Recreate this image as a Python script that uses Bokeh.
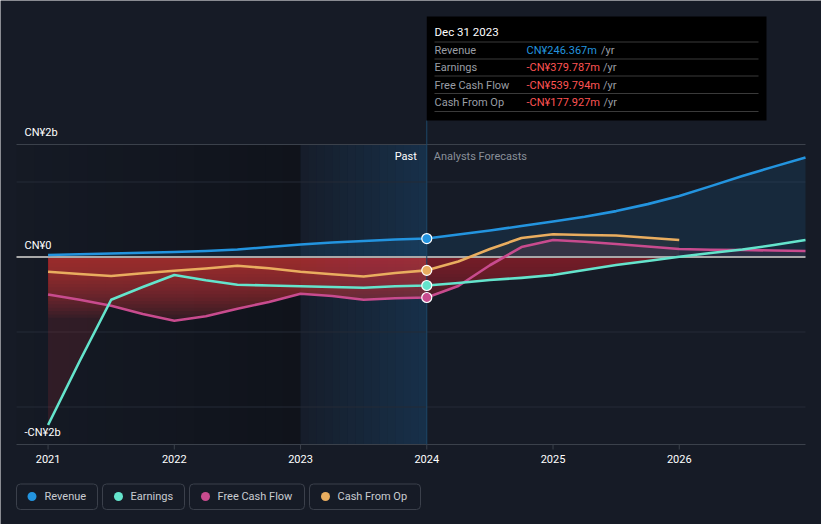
import numpy as np
from bokeh.plotting import figure
from bokeh.core.properties import value
from bokeh.embed import file_html
from bokeh.resources import INLINE

# ---------------- data (CN¥ billions) ----------------
past_years = [2021.0, 2021.25, 2021.5, 2021.75, 2022.0, 2022.25, 2022.5, 2022.75,
              2023.0, 2023.25, 2023.5, 2023.75, 2024.0]
revenue_past = [0.027, 0.037, 0.047, 0.056, 0.067, 0.080, 0.100, 0.133,
                0.167, 0.193, 0.213, 0.233, 0.246]
earnings_past = [-2.24, -1.39, -0.57, -0.40, -0.24, -0.31, -0.37, -0.38,
                 -0.39, -0.40, -0.41, -0.39, -0.380]
fcf_past = [-0.50, -0.57, -0.65, -0.76, -0.85, -0.79, -0.69, -0.60,
            -0.49, -0.52, -0.57, -0.55, -0.540]
cfo_past = [-0.196, -0.227, -0.253, -0.217, -0.183, -0.153, -0.117, -0.150,
            -0.196, -0.230, -0.260, -0.213, -0.178]

forecast_years = [2024.0, 2024.25, 2024.5, 2024.75, 2025.0, 2025.25, 2025.5, 2025.75,
                  2026.0, 2026.25, 2026.5, 2026.75, 2027.0]
revenue_fc = [0.246, 0.300, 0.353, 0.413, 0.473, 0.537, 0.612, 0.705,
              0.813, 0.945, 1.080, 1.205, 1.327]
earnings_fc = [-0.380, -0.347, -0.307, -0.278, -0.240, -0.173, -0.107, -0.053,
               0.003, 0.053, 0.099, 0.160, 0.227]
fcf_fc = [-0.540, -0.387, -0.110, 0.133, 0.227, 0.204, 0.173, 0.140,
          0.107, 0.097, 0.093, 0.087, 0.080]
cfo_fc_years = [2024.0, 2024.25, 2024.5, 2024.75, 2025.0, 2025.25, 2025.5, 2025.75, 2026.0]
cfo_fc = [-0.178, -0.060, 0.107, 0.253, 0.303, 0.293, 0.287, 0.256, 0.227]

tick_years = [2021, 2022, 2023, 2024, 2025, 2026]
tick_labels = ["2021", "2022", "2023", "2024", "2025", "2026"]
y_label_values = [1.5, 0.0, -2.5]
y_labels = ["CN¥2b", "CN¥0", "-CN¥2b"]
grid_values = [1.0, -1.0, -2.0]
y_top, y_bottom = 1.5, -2.5
x_start, x_end = 2020.75, 2027.0
band_start = 2023.0
today = 2024.0

series_names = ["Revenue", "Earnings", "Free Cash Flow", "Cash From Op"]
series_colors = ["#2394df", "#64e4cc", "#c84b8e", "#e9ad5f"]
tooltip_title = "Dec 31 2023"
tooltip_values = ["CN¥246.367m", "-CN¥379.787m", "-CN¥539.794m", "-CN¥177.927m"]
tooltip_value_colors = ["#2394df", "#ff5454", "#ff5454", "#ff5454"]

# ---------------- layout (page pixels) ----------------
W, H = 821, 524
PL, PR, PT, PB = 16, 805, 144, 444          # plot area in page px
ppx = (PR - PL) / (x_end - x_start)
ppy = (PB - PT) / (y_top - y_bottom)


def px(x):
    return x_start + (x - PL) / ppx


def py(y):
    return y_top - (y - PT) / ppy


BG = "#161b26"
FONT = value("Roboto")

p = figure(width=W, height=H, output_backend="svg", toolbar_location=None,
           x_range=(px(0), px(W)), y_range=(py(H), py(0)),
           min_border=0, min_border_left=0, min_border_right=0,
           min_border_top=0, min_border_bottom=0,
           background_fill_color=BG, border_fill_color=BG, outline_line_color=None)
p.xaxis.visible = False
p.yaxis.visible = False
p.xgrid.visible = False
p.ygrid.visible = False

# ---------------- background bands ----------------
n_strips = 16
edges = [x_start + (band_start - x_start) * i / n_strips for i in range(n_strips + 1)]
for i in range(n_strips):
    p.quad(left=edges[i], right=edges[i + 1], top=y_top, bottom=y_bottom,
           fill_color="#000000", fill_alpha=0.03 + 0.24 * i / (n_strips - 1), line_color=None)
n_blue = 16
bedges = [band_start + (today - band_start) * i / n_blue for i in range(n_blue + 1)]
for i in range(n_blue):
    p.quad(left=bedges[i], right=bedges[i + 1], top=y_top, bottom=y_bottom,
           fill_color="#1d70b2", fill_alpha=0.04 + 0.21 * i / (n_blue - 1), line_color=None)

# ---------------- grid ----------------
p.segment(x0=[x_start] * len(grid_values), x1=[x_end] * len(grid_values),
          y0=grid_values, y1=grid_values, line_color="#252b36", line_width=1)
p.segment(x0=[x_start, x_start], x1=[x_end, x_end], y0=[y_top, y_bottom], y1=[y_top, y_bottom],
          line_color="#3b414b", line_width=1)
p.segment(x0=tick_years, x1=tick_years, y0=[y_bottom] * 6, y1=[py(PB + 5)] * 6,
          line_color="#3b414b", line_width=1)

# ---------------- fills ----------------
years = past_years + forecast_years[1:]
E = earnings_past + earnings_fc[1:]
F = fcf_past + fcf_fc[1:]
R = revenue_past + revenue_fc[1:]
C_years = past_years + cfo_fc_years[1:]
C = cfo_past + cfo_fc[1:]


def envelope(xs, a, b, fn):
    """fn (min/max) of two polylines on the same x grid, with crossings inserted."""
    ox, oy = [], []
    for i in range(len(xs)):
        if i > 0:
            d0 = a[i - 1] - b[i - 1]
            d1 = a[i] - b[i]
            if d0 * d1 < 0:
                t = d0 / (d0 - d1)
                ox.append(xs[i - 1] + t * (xs[i] - xs[i - 1]))
                oy.append(a[i - 1] + t * (a[i] - a[i - 1]))
        ox.append(xs[i])
        oy.append(fn(a[i], b[i]))
    return ox, oy


def clip(xs, ys, level, fn):
    return envelope(xs, ys, [level] * len(ys), fn)


lx, ly = envelope(years, E, F, min)
lx, ly = clip(lx, ly, 0.0, min)


def split(xs, ys, at):
    past = [(x, y) for x, y in zip(xs, ys) if x <= at]
    fut = [(x, y) for x, y in zip(xs, ys) if x >= at]
    return ([q[0] for q in past], [q[1] for q in past]), ([q[0] for q in fut], [q[1] for q in fut])


RED = "#c4323a"
for part, scale in zip(split(lx, ly, today), (1.0, 0.55)):
    xs, ys = part
    p.varea(x=xs, y1=[0.0] * len(xs), y2=ys, fill_color=RED, fill_alpha=0.16 * scale)
    for k in range(18):
        gx, gy = clip(xs, ys, -0.045 * (k + 1), max)
        p.varea(x=gx, y1=[0.0] * len(gx), y2=gy, fill_color=RED, fill_alpha=0.072 * scale)

# revenue area
p.varea(x=years, y1=[0.0] * len(years), y2=R, fill_color="#2394df", fill_alpha=0.12)
# positive cash areas
fx, fy = clip(years, F, 0.0, max)
p.varea(x=fx, y1=[0.0] * len(fx), y2=fy, fill_color="#c84b8e", fill_alpha=0.10)
cx, cy = clip(C_years, C, 0.0, max)
p.varea(x=cx, y1=[0.0] * len(cx), y2=cy, fill_color="#e9ad5f", fill_alpha=0.07)

# zero line
p.segment(x0=[x_start], x1=[x_end], y0=[0.0], y1=[0.0], line_color="#a8a8a8", line_width=2)

# today line
p.segment(x0=[today], x1=[today], y0=[py(120)], y1=[y_bottom], line_color="#1d4868", line_width=1)

# ---------------- series lines ----------------
LW = 2.6
p.line(C_years, C, line_color=series_colors[3], line_width=LW, line_join="round")
p.line(years, F, line_color=series_colors[2], line_width=LW, line_join="round")
p.line(years, E, line_color=series_colors[1], line_width=LW, line_join="round")
p.line(years, R, line_color=series_colors[0], line_width=LW, line_join="round")

p.scatter(x=[today] * 4, y=[revenue_past[-1], earnings_past[-1], fcf_past[-1], cfo_past[-1]],
          size=10, fill_color=series_colors, line_color="#ffffff", line_width=1.2)

# ---------------- texts ----------------
p.text(x=[px(24)] * 3, y=y_label_values, text=y_labels, y_offset=-12,
       text_font=FONT, text_font_size="11px", text_color="#ffffff",
       text_baseline="middle", text_align="left")
p.text(x=tick_years, y=[y_bottom] * 6, text=tick_labels, y_offset=14,
       text_font=FONT, text_font_size="11px", text_color="#ffffff",
       text_baseline="middle", text_align="center")
p.text(x=[today], y=[y_top], text=["Past"], x_offset=-10, y_offset=12,
       text_font=FONT, text_font_size="11px", text_color="#ffffff",
       text_baseline="middle", text_align="right")
p.text(x=[today], y=[y_top], text=["Analysts Forecasts"], x_offset=7, y_offset=12,
       text_font=FONT, text_font_size="11px", text_color="#8a9099",
       text_baseline="middle", text_align="left")

# ---------------- tooltip ----------------
p.quad(left=[today], right=[px(766)], top=[py(16)], bottom=[py(120)],
       fill_color="#000000", line_color=None)
sep_y = [py(v) for v in (41.5, 58.5, 75.5, 93, 111)]
p.segment(x0=[px(434)] * 5, x1=[px(758)] * 5, y0=sep_y, y1=sep_y, line_color="#3a3a3a", line_width=1)
p.text(x=[px(434)], y=[py(31)], text=[tooltip_title], text_font=FONT, text_font_size="11.5px",
       text_color="#ffffff", text_baseline="middle", text_align="left")
row_y = [py(v) for v in (49.5, 67, 84.5, 101.5)]
p.text(x=[px(434)] * 4, y=row_y, text=series_names, text_font=FONT, text_font_size="11px",
       text_color="#9a9ea5", text_baseline="middle", text_align="left")
p.text(x=[px(526)] * 4, y=row_y, text=tooltip_values, text_font=FONT, text_font_size="11px",
       text_color=tooltip_value_colors, text_baseline="middle", text_align="left")
p.text(x=[px(v) for v in (600.5, 602.5, 602.5, 603)], y=row_y, text=["/yr"] * 4,
       text_font=FONT, text_font_size="11px", text_color="#9a9ea5",
       text_baseline="middle", text_align="left")

# ---------------- legend ----------------
box_l = [16, 102, 189, 309]
box_r = [97, 184, 304, 420]
dot_x = [31.5, 118, 205, 325]
txt_x = [44, 130, 217, 337]
p.quad(left=[px(v) for v in box_l], right=[px(v) for v in box_r],
       top=[py(483.5)] * 4, bottom=[py(509)] * 4,
       fill_alpha=0, line_color="#3b404b", line_width=1, border_radius=4)
p.scatter(x=[px(v) for v in dot_x], y=[py(496)] * 4, size=9,
          fill_color=series_colors, line_color=None)
p.text(x=[px(v) for v in txt_x], y=[py(496)] * 4, text=series_names,
       text_font=FONT, text_font_size="11px", text_color="#c9ccd1",
       text_baseline="middle", text_align="left")

open("out.html", "w").write(file_html(p, INLINE))
